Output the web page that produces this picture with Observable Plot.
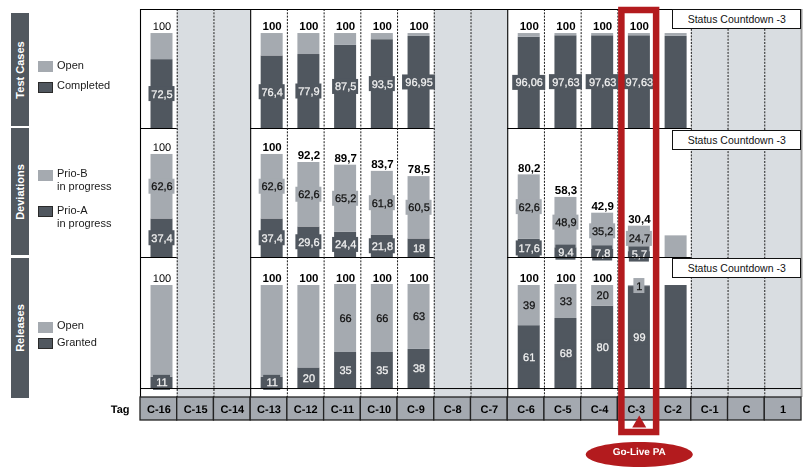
<!DOCTYPE html>
<html><head><meta charset="utf-8">
<script src="https://cdn.jsdelivr.net/npm/d3@7"></script>
<script src="https://cdn.jsdelivr.net/npm/@observablehq/plot@0.6"></script>
<style>
body{margin:0;background:#fff;font-family:"Liberation Sans",Arial,sans-serif;}
#chart{position:relative;width:807px;height:469px;overflow:hidden;}
#chart svg text{text-rendering:geometricPrecision;}
.side{position:absolute;left:11px;width:18px;background:#51585f;}
.side span{position:absolute;left:50%;top:50%;transform:translate(-50%,-50%) rotate(-90deg);color:#fff;font-weight:bold;font-size:11px;white-space:nowrap;}
.sw{position:absolute;left:38px;width:15px;height:11px;box-sizing:border-box;}
.lt{position:absolute;left:57px;font-size:11px;color:#1a1a1a;line-height:13px;}
.status{position:absolute;background:#fff;border:1px solid #111;height:20px;font-size:10.5px;line-height:18px;text-align:center;box-sizing:border-box;color:#111;}
</style></head><body><div id="chart"></div>
<script>
// ---------- data ----------
const columns = ["C-16","C-15","C-14","C-13","C-12","C-11","C-10","C-9","C-8","C-7","C-6","C-5","C-4","C-3","C-2","C-1","C","1"];
const inactiveColumns = ["C-15","C-14","C-8","C-7","C-1","C","1"];
const solidLeftEdges = ["C-16","C-13","C-6"];
const goLiveColumn = "C-3";
const goLiveLabel = "Go-Live PA";
const statusLabel = "Status Countdown -3";
const statusStartColumn = "C-2";
const tagTitle = "Tag";

const barColumns = ["C-16","C-13","C-12","C-11","C-10","C-9","C-6","C-5","C-4","C-3","C-2"];
const plainWeightColumns = ["C-16"];
const unlabeledColumns = ["C-2"];

// Test Cases
const testTotal     = [100,100,100,100,100,100,100,100,100,100,100];
const testCompleted = [72.5,76.4,77.9,87.5,93.5,96.95,96.06,97.63,97.63,97.63,97];

// Deviations
const devTotal = [100,100,92.2,89.7,83.7,78.5,80.2,58.3,42.9,30.4,21];
const devPrioA = [37.4,37.4,29.6,24.4,21.8,18,17.6,9.4,7.8,5.7,0];
const devPrioB = [62.6,62.6,62.6,65.2,61.8,60.5,62.6,48.9,35.2,24.7,21];

// Releases
const relTotal   = [100,100,100,100,100,100,100,100,100,100,100];
const relGranted = [11,11,20,35,35,38,61,68,80,99,100];
const relOpen    = [89,89,80,66,66,63,39,33,20,1,0];
const relOpenLabeled  = ["C-11","C-10","C-9","C-6","C-5","C-4","C-3"];
const relTotalUnlabeled = ["C-3","C-2"];

// ---------- styling ----------
const DARK = "#50575f", LIGHT = "#a5aab0", GRAYCOL = "#d9dde1", RED = "#b31b1e", TAGFILL = "#a4a9b0";
const W = 807, H = 469;
const xRange = [140, 801];
const bw = (xRange[1] - xRange[0]) / columns.length;
const barLeft = 10.5, barWidth = 22;
const barCenter = barLeft + barWidth / 2;
const textDx = barCenter - bw / 2;
const fmt = v => String(v).replace(".", ",");
const labelSize = 11;
const textWidth = s => [...s].reduce((w, ch) => w + (ch === "," ? 0.278 : 0.556), 0) * labelSize;

const xScale = {type: "band", domain: columns, range: xRange, padding: 0, round: false, axis: null};

function frameMarks() {
  return [
    Plot.cell(inactiveColumns, {x: d => d, fill: GRAYCOL}),
    Plot.ruleX(columns.filter(c => !solidLeftEdges.includes(c)), {x: d => d, dx: -bw / 2, stroke: "#1a1a1a", strokeWidth: 1, strokeDasharray: "2,1.3"}),
    Plot.ruleX(solidLeftEdges, {x: d => d, dx: -bw / 2, stroke: "black", strokeWidth: 1.1}),
    Plot.ruleX([columns[columns.length - 1]], {x: d => d, dx: bw / 2, stroke: "#9a9a9a", strokeWidth: 2})
  ];
}
function barMarks(segments) {
  return [Plot.barY(segments, {x: "col", y1: "y1", y2: "y2", fill: "fill", insetLeft: barLeft, insetRight: bw - barLeft - barWidth})];
}
function labelMarks(labels) {
  const marks = [];
  for (const [w, group] of d3.group(labels, d => Math.round(textWidth(d.text) + 5))) {
    marks.push(Plot.barY(group, {x: "col", y1: "y", y2: "y", fill: "box",
      insetLeft: barCenter - w / 2, insetRight: bw - barCenter - w / 2, insetTop: -7.5, insetBottom: -7.5}));
  }
  marks.push(Plot.text(labels, {x: "col", y: "y", text: "text", fill: "ink", stroke: "ink", strokeWidth: 0.25, dx: textDx, fontSize: labelSize}));
  return marks;
}
function totalMarks(totals) {
  return [
    Plot.text(totals.filter(d => !plainWeightColumns.includes(d.col)), {x: "col", y: "y", text: "text", dx: textDx, dy: -7, fontSize: 11.5, fontWeight: "bold", fill: "black"}),
    Plot.text(totals.filter(d => plainWeightColumns.includes(d.col)), {x: "col", y: "y", text: "text", dx: textDx, dy: -7, fontSize: 11, fontWeight: "normal", fill: "#000"})
  ];
}
function panel(top, bottom, yDomain, marks) {
  return Plot.plot({
    width: W, height: H, marginLeft: xRange[0], marginRight: W - xRange[1], marginTop: top, marginBottom: H - bottom,
    x: xScale, y: {domain: yDomain, axis: null}, color: {type: "identity"},
    style: {fontFamily: "Liberation Sans, Arial, sans-serif"},
    marks
  });
}

// ---- Test Cases panel ----
const tcSeg = [], tcLab = [], tcTot = [];
barColumns.forEach((col, i) => {
  tcSeg.push({col, y1: 0, y2: testCompleted[i], fill: DARK});
  tcSeg.push({col, y1: testCompleted[i], y2: testTotal[i], fill: LIGHT});
  if (!unlabeledColumns.includes(col)) {
    tcLab.push({col, y: testCompleted[i] / 2, text: fmt(testCompleted[i]), box: DARK, ink: "#f2f2f2"});
    tcTot.push({col, y: testTotal[i], text: fmt(testTotal[i])});
  }
});
const p1 = panel(9, 128, [0, 125.3], [
  ...frameMarks(), ...barMarks(tcSeg), ...labelMarks(tcLab), ...totalMarks(tcTot),
  Plot.ruleY([0, 125.3], {stroke: "black", strokeWidth: 1})
]);

// ---- Deviations panel ----
const dvSeg = [], dvLab = [], dvTot = [];
barColumns.forEach((col, i) => {
  if (devPrioA[i] > 0) dvSeg.push({col, y1: 0, y2: devPrioA[i], fill: DARK});
  dvSeg.push({col, y1: devPrioA[i], y2: devPrioA[i] + devPrioB[i], fill: LIGHT});
  if (!unlabeledColumns.includes(col)) {
    dvLab.push({col, y: devPrioA[i] + devPrioB[i] / 2, text: fmt(devPrioB[i]), box: LIGHT, ink: "#111"});
    dvLab.push({col, y: devPrioA[i] / 2, text: fmt(devPrioA[i]), box: DARK, ink: "#f2f2f2"});
    dvTot.push({col, y: devTotal[i], text: fmt(devTotal[i])});
  }
});
const p2 = panel(128, 257, [0, 125.2], [
  ...frameMarks(), ...barMarks(dvSeg), ...labelMarks(dvLab), ...totalMarks(dvTot),
  Plot.ruleY([0], {stroke: "black", strokeWidth: 1})
]);

// ---- Releases panel ----
const rlSeg = [], rlLab = [], rlTot = [];
barColumns.forEach((col, i) => {
  rlSeg.push({col, y1: 0, y2: relGranted[i], fill: DARK});
  if (relOpen[i] > 0) rlSeg.push({col, y1: relGranted[i], y2: relGranted[i] + relOpen[i], fill: LIGHT});
  if (!unlabeledColumns.includes(col)) rlLab.push({col, y: relGranted[i] / 2, text: fmt(relGranted[i]), box: DARK, ink: "#f2f2f2"});
  if (relOpenLabeled.includes(col)) rlLab.push({col, y: relGranted[i] + relOpen[i] / 2, text: fmt(relOpen[i]), box: LIGHT, ink: "#111"});
  if (!relTotalUnlabeled.includes(col)) rlTot.push({col, y: relTotal[i], text: fmt(relTotal[i])});
});
const p3 = panel(257, 397, [-8.7, 127.2], [
  ...frameMarks(), ...barMarks(rlSeg), ...labelMarks(rlLab), ...totalMarks(rlTot),
  Plot.ruleY([0], {stroke: "black", strokeWidth: 1})
]);

// ---- Tag row ----
const p4 = Plot.plot({
  width: W, height: H, marginLeft: xRange[0], marginRight: W - xRange[1], marginTop: 397, marginBottom: H - 420,
  x: xScale, style: {fontFamily: "Liberation Sans, Arial, sans-serif"},
  marks: [
    Plot.cell(columns, {x: d => d, fill: TAGFILL, stroke: "#222", strokeWidth: 1.3}),
    Plot.text(columns, {x: d => d, text: d => d, frameAnchor: "middle", fontSize: 11, fontWeight: "bold", fill: "black"}),
    Plot.text([tagTitle], {text: d => d, frameAnchor: "left", dx: -11, textAnchor: "end", fontSize: 11, fontWeight: "bold", fill: "black"})
  ]
});

// ---- Go-Live overlay ----
const ellipse = {draw(ctx) {
  const rx = 53.5, ry = 12.5, k = 0.5523;
  ctx.moveTo(rx, 0);
  ctx.bezierCurveTo(rx, k * ry, k * rx, ry, 0, ry);
  ctx.bezierCurveTo(-k * rx, ry, -rx, k * ry, -rx, 0);
  ctx.bezierCurveTo(-rx, -k * ry, -k * rx, -ry, 0, -ry);
  ctx.bezierCurveTo(k * rx, -ry, rx, -k * ry, rx, 0);
  ctx.closePath();
}};
const p5 = Plot.plot({
  width: W, height: H, marginLeft: xRange[0], marginRight: W - xRange[1], marginTop: 10, marginBottom: H - 432,
  x: xScale, style: {fontFamily: "Liberation Sans, Arial, sans-serif"},
  marks: [
    Plot.cell([goLiveColumn], {x: d => d, fill: "none", stroke: RED, strokeWidth: 6.5, insetLeft: 4, insetRight: -2}),
    Plot.dot([goLiveColumn], {x: d => d, frameAnchor: "bottom", dx: 3, dy: -9, symbol: "triangle", r: 5.2, fill: RED}),
    Plot.dot([goLiveColumn], {x: d => d, frameAnchor: "bottom", dx: 3, dy: 22, symbol: ellipse, r: 1, fill: RED}),
    Plot.text([goLiveLabel], {x: () => goLiveColumn, text: d => d, frameAnchor: "bottom", dx: 3, dy: 22, fontSize: 10, fontWeight: "bold", fill: "#fff"})
  ]
});

const chart = document.getElementById("chart");
for (const svg of [p1, p2, p3, p4, p5]) {
  svg.style.position = "absolute"; svg.style.left = "0px"; svg.style.top = "0px";
  svg.style.background = "transparent"; svg.style.overflow = "visible";
  svg.style.willChange = "transform";
}
chart.append(p1, p2, p3, p4);

// status boxes positioned with the x scale
const xs = p1.scale("x");
const statusLeft = xs.apply(statusStartColumn) + xs.bandwidth / 2;
for (const top of [9, 130, 258]) {
  const d = document.createElement("div");
  d.className = "status"; d.textContent = statusLabel;
  d.style.left = statusLeft + "px"; d.style.top = top + "px"; d.style.width = (xRange[1] - statusLeft) + "px";
  chart.append(d);
}
chart.append(p5);

// side titles and legends
const side = [
  {title: "Test Cases", top: 13, h: 113, items: [
    {color: LIGHT, top: 61, lines: ["Open"], tt: 59}, {color: DARK, top: 81.5, lines: ["Completed"], tt: 79}]},
  {title: "Deviations", top: 128, h: 127, items: [
    {color: LIGHT, top: 169.5, lines: ["Prio-B", "in progress"], tt: 167}, {color: DARK, top: 206, lines: ["Prio-A", "in progress"], tt: 203.5}]},
  {title: "Releases", top: 258, h: 140, items: [
    {color: LIGHT, top: 321.5, lines: ["Open"], tt: 319}, {color: DARK, top: 338, lines: ["Granted"], tt: 336}]}
];
for (const s of side) {
  const b = document.createElement("div");
  b.className = "side"; b.style.top = s.top + "px"; b.style.height = s.h + "px";
  const sp = document.createElement("span"); sp.textContent = s.title; b.append(sp);
  chart.append(b);
  for (const it of s.items) {
    const sw = document.createElement("div");
    sw.className = "sw"; sw.style.top = it.top + "px"; sw.style.background = it.color;
    if (it.color === DARK) sw.style.border = "1px solid #2a2a2a";
    chart.append(sw);
    const t = document.createElement("div");
    t.className = "lt"; t.style.top = it.tt + "px"; t.innerHTML = it.lines.join("<br>");
    chart.append(t);
  }
}
</script>
</body></html>
